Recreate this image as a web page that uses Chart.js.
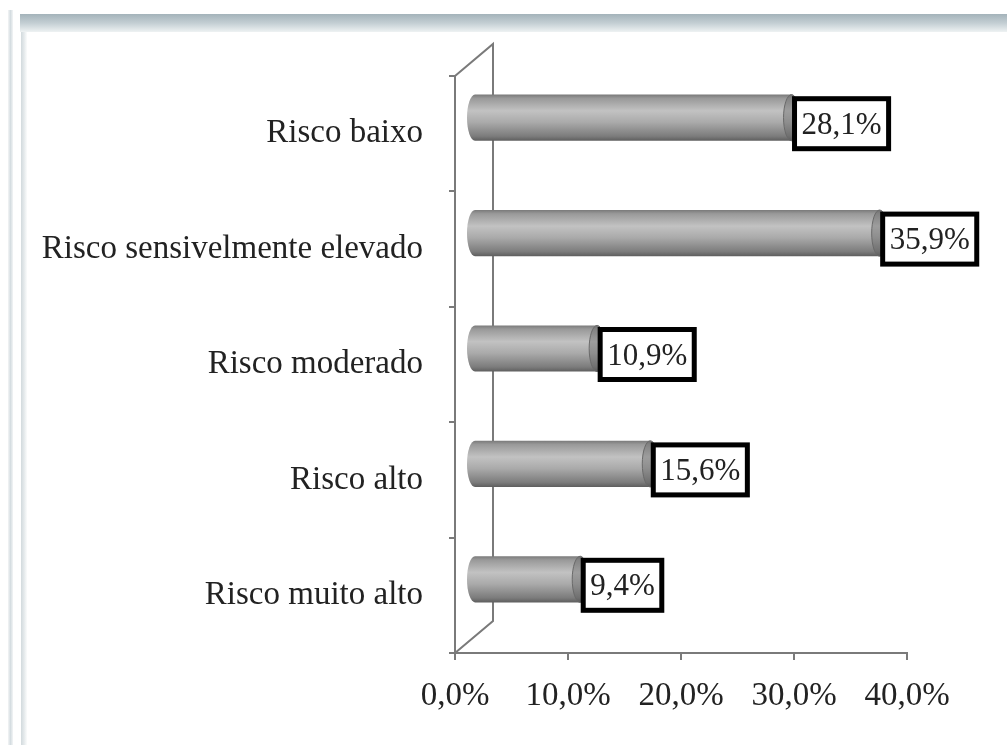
<!DOCTYPE html>
<html>
<head>
<meta charset="utf-8">
<script src="https://cdn.jsdelivr.net/npm/chart.js@4"></script>
<style>
  html, body { margin: 0; padding: 0; background: #fff; }
  #wrap { position: relative; width: 1007px; height: 754px; overflow: hidden; }
  #topband { position: absolute; left: 20px; top: 14px; width: 987px; height: 18px;
    background: linear-gradient(#a4b3ba, #c3ced3 50%, #eef2f3); }
  #lline1 { position: absolute; left: 8px; top: 10px; width: 5px; height: 735px;
    background: linear-gradient(90deg, #f3f5f6, #d5dde1, #f3f5f6); }
  #lline2 { position: absolute; left: 21px; top: 32px; width: 6px; height: 713px;
    background: linear-gradient(90deg, #d2dadd, #e4e9eb, #fbfcfc); }
  canvas { position: absolute; left: 0; top: 0; }
</style>
</head>
<body>
<div id="wrap">
  <div id="topband"></div>
  <div id="lline1"></div>
  <div id="lline2"></div>
  <canvas id="chart" width="1007" height="754"></canvas>
</div>
<script>
// dados
const categories = ['Risco baixo', 'Risco sensivelmente elevado', 'Risco moderado', 'Risco alto', 'Risco muito alto'];
const values = [28.1, 35.9, 10.9, 15.6, 9.4];
const xTickLabels = ['0,0%', '10,0%', '20,0%', '30,0%', '40,0%'];

const FONT = '"Liberation Serif", "DejaVu Serif", serif';
const DX = 19, DY = -16; // profundidade 3D (meio)
const AXIS = '#7a7a7a';

function fmt(v) {
  return v.toFixed(1).replace('.', ',') + '%';
}

function cylGradient(ctx, top, bottom) {
  const g = ctx.createLinearGradient(0, top, 0, bottom);
  g.addColorStop(0, '#7a7a7a');
  g.addColorStop(0.08, '#999999');
  g.addColorStop(0.35, '#c2c2c2');
  g.addColorStop(0.6, '#aaaaaa');
  g.addColorStop(0.9, '#7c7c7c');
  g.addColorStop(1, '#5e5e5e');
  return g;
}

// paredes 3D e cilindros
const frame3d = {
  id: 'frame3d',
  beforeDatasetsDraw(chart) {
    const {ctx, chartArea: a} = chart;
    ctx.save();
    ctx.strokeStyle = AXIS;
    ctx.lineWidth = 2;
    ctx.beginPath();
    ctx.moveTo(a.left, a.top);
    ctx.lineTo(a.left + 2 * DX, a.top + 2 * DY);
    ctx.lineTo(a.left + 2 * DX, a.bottom + 2 * DY);
    ctx.lineTo(a.left, a.bottom);
    ctx.stroke();
    ctx.restore();
    ctx.save();
    ctx.translate(DX, DY);
  },
  afterDatasetsDraw(chart) {
    const {ctx} = chart;
    const meta = chart.getDatasetMeta(0);
    meta.data.forEach((bar, i) => {
      const h = bar.height;
      const top = bar.y - h / 2;
      const rx = 8;
      // base esquerda
      ctx.fillStyle = cylGradient(ctx, top, top + h);
      ctx.beginPath();
      ctx.ellipse(bar.base, bar.y, rx, h / 2, 0, Math.PI / 2, Math.PI * 1.5);
      ctx.fill();
      // tampa direita
      ctx.beginPath();
      ctx.ellipse(bar.x, bar.y, rx, h / 2, 0, 0, Math.PI * 2);
      ctx.fillStyle = cylGradient(ctx, top, top + h);
      ctx.fill();
      ctx.fillStyle = 'rgba(90,90,90,0.35)';
      ctx.fill();
      ctx.strokeStyle = '#6a6a6a';
      ctx.lineWidth = 1;
      ctx.stroke();
    });
    // rótulos
    ctx.font = '31px ' + FONT;
    ctx.textBaseline = 'middle';
    ctx.textAlign = 'left';
    meta.data.forEach((bar, i) => {
      const txt = fmt(values[i]);
      const w = ctx.measureText(txt).width + 14;
      const hgt = 50;
      const x0 = bar.x + 3;
      const y0 = bar.y + 6 - hgt / 2;
      ctx.fillStyle = '#fff';
      ctx.fillRect(x0, y0, w, hgt);
      ctx.strokeStyle = '#000';
      ctx.lineWidth = 5;
      ctx.strokeRect(x0, y0, w, hgt);
      ctx.fillStyle = '#222';
      ctx.fillText(txt, x0 + 7, y0 + hgt / 2 + 2);
    });
    ctx.restore();
  }
};

const ctx = document.getElementById('chart').getContext('2d');
new Chart(ctx, {
  type: 'bar',
  data: {
    labels: categories,
    datasets: [{
      data: values,
      backgroundColor: (c) => {
        const ch = c.chart;
        if (!ch.chartArea) return '#aaa';
        const y = ch.scales.y;
        const band = (y.bottom - y.top) / categories.length;
        const h = band * 0.4;
        const cy = y.getPixelForValue(c.dataIndex);
        return cylGradient(ch.ctx, cy - h / 2, cy + h / 2);
      },
      borderWidth: 0,
      barPercentage: 0.4,
      categoryPercentage: 1.0
    }]
  },
  options: {
    indexAxis: 'y',
    responsive: false,
    animation: false,
    layout: { padding: { left: 0, top: 76, right: 100, bottom: 0 } },
    plugins: { legend: { display: false }, tooltip: { enabled: false } },
    scales: {
      x: {
        min: 0, max: 40,
        ticks: {
          stepSize: 10,
          color: '#222',
          font: { family: FONT, size: 33 },
          padding: 17,
          maxRotation: 0,
          callback: (v, i) => xTickLabels[i]
        },
        grid: { drawOnChartArea: false, drawTicks: true, tickLength: 7, color: AXIS, lineWidth: 2 },
        border: { display: true, color: AXIS, width: 2 },
        afterFit: (s) => { s.height = 101; }
      },
      y: {
        ticks: {
          color: '#222',
          font: { family: FONT, size: 33 },
          padding: 26
        },
        grid: { drawOnChartArea: false, drawTicks: true, tickLength: 6, color: AXIS, lineWidth: 2, offset: true },
        border: { display: true, color: AXIS, width: 2 },
        afterFit: (s) => { s.width = 455; }
      }
    }
  },
  plugins: [frame3d]
});
</script>
</body>
</html>
